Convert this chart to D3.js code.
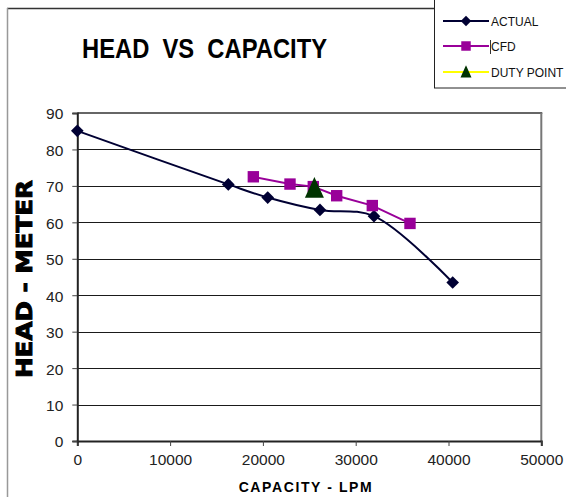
<!DOCTYPE html>
<html>
<head>
<meta charset="utf-8">
<script src="https://cdn.jsdelivr.net/npm/d3@7"></script>
<style>
  html, body { margin: 0; padding: 0; background: #fff; }
  svg { display: block; }
  text { font-family: "Liberation Sans", Arial, sans-serif; }
</style>
</head>
<body>
<svg id="chart" width="566" height="497"></svg>
<script>
// Measured pump performance: capacity (LPM) against head (m)
const actualCapacity = [0, 16270, 20520, 26150, 31970, 40450];
const actualHead     = [85.1, 70.4, 66.8, 63.4, 61.7, 43.5];

// CFD predictions
const cfdCapacity = [18970, 22920, 25430, 27950, 31790, 35850];
const cfdHead     = [72.5, 70.5, 69.8, 67.3, 64.6, 59.7];

// Duty point
const dutyCapacity = [25550];
const dutyHead     = [69.3];

const xTicks = [0, 10000, 20000, 30000, 40000, 50000];
const yTicks = [0, 10, 20, 30, 40, 50, 60, 70, 80, 90];

const seriesNames = ["ACTUAL", "CFD", "DUTY POINT"];

const svg = d3.select("#chart");

const plot = { left: 77.3, right: 541.3, top: 113, bottom: 441 };

const x = d3.scaleLinear().domain([0, 50000]).range([plot.left, plot.right]);
const y = d3.scaleLinear().domain([0, 90]).range([plot.bottom, plot.top]);

// upright triangle slightly taller than wide; size sets its width
const tallTriangle = {
  draw(context, size) {
    const w = Math.sqrt(size), h = w * 1.1;
    context.moveTo(0, -h * 0.55);
    context.lineTo(w / 2, h * 0.45);
    context.lineTo(-w / 2, h * 0.45);
    context.closePath();
  }
};

// outer chart frame
svg.append("line").attr("x1", 7).attr("y1", 8.5).attr("x2", 566).attr("y2", 8.5)
  .attr("stroke", "#333").attr("stroke-width", 1.5);
svg.append("line").attr("x1", 7.5).attr("y1", 8).attr("x2", 7.5).attr("y2", 497)
  .attr("stroke", "#999").attr("stroke-width", 1.5);

// title
svg.append("text")
  .attr("x", 82).attr("y", 58)
  .attr("textLength", 245).attr("lengthAdjust", "spacingAndGlyphs")
  .style("font-size", "28px").style("font-weight", "bold")
  .style("white-space", "pre")
  .attr("fill", "#000")
  .text("HEAD  VS  CAPACITY");

// horizontal gridlines
svg.append("g").selectAll("line")
  .data(yTicks.filter(t => t > 0 && t < 90))
  .join("line")
  .attr("x1", plot.left).attr("x2", plot.right)
  .attr("y1", d => Math.round(y(d)) + 0.5).attr("y2", d => Math.round(y(d)) + 0.5)
  .attr("stroke", "#1a1a1a").attr("stroke-width", 1);

// plot-area border (top and right)
svg.append("line").attr("x1", plot.left).attr("x2", plot.right + 1)
  .attr("y1", plot.top).attr("y2", plot.top)
  .attr("stroke", "#666").attr("stroke-width", 2);
svg.append("line").attr("x1", plot.right).attr("x2", plot.right)
  .attr("y1", plot.top).attr("y2", plot.bottom)
  .attr("stroke", "#777").attr("stroke-width", 2);

// axes
const xAxis = d3.axisBottom(x).tickValues(xTicks).tickSize(5).tickPadding(8)
  .tickFormat(d3.format("d"));
const gx = svg.append("g").attr("transform", `translate(0,${plot.bottom})`).call(xAxis);
gx.select(".domain").attr("stroke", "#222").attr("stroke-width", 2);
gx.selectAll(".tick line").attr("stroke", "#444");
gx.selectAll(".tick text")
  .style("font-size", "15.5px").attr("fill", "#222")
  .attr("dy", "0.71em");

const yAxis = d3.axisLeft(y).tickValues(yTicks).tickSize(5).tickPadding(9);
const gy = svg.append("g").attr("transform", `translate(${plot.left},0)`).call(yAxis);
gy.select(".domain").attr("stroke", "#222").attr("stroke-width", 2);
gy.selectAll(".tick line").attr("stroke", "#444");
gy.selectAll(".tick text")
  .style("font-size", "15.5px").attr("fill", "#222")
  .attr("dy", "0.38em");

// axis titles
svg.append("text")
  .attr("x", 306).attr("y", 492)
  .attr("text-anchor", "middle")
  .style("font-size", "14px").style("font-weight", "bold")
  .style("letter-spacing", "1.6px")
  .attr("fill", "#000")
  .text("CAPACITY - LPM");

svg.append("text")
  .attr("transform", "translate(32,279) rotate(-90)")
  .attr("text-anchor", "middle")
  .attr("textLength", 198).attr("lengthAdjust", "spacingAndGlyphs")
  .style("font-family", "'DejaVu Sans', sans-serif")
  .style("font-size", "20.5px").style("font-weight", "bold")
  .attr("fill", "#000").attr("stroke", "#000").attr("stroke-width", 0.9)
  .text("HEAD - METER");

// series
const actualPts = actualCapacity.map((c, i) => [c, actualHead[i]]);
const cfdPts = cfdCapacity.map((c, i) => [c, cfdHead[i]]);
const dutyPts = dutyCapacity.map((c, i) => [c, dutyHead[i]]);

const smoothLine = d3.line().x(d => x(d[0])).y(d => y(d[1])).curve(d3.curveCatmullRom.alpha(0.5));
const straightLine = d3.line().x(d => x(d[0])).y(d => y(d[1]));

const navy = "#000033", purple = "#990099", green = "#003300", yellow = "#ffff00";

svg.append("path").datum(actualPts).attr("d", smoothLine)
  .attr("fill", "none").attr("stroke", navy).attr("stroke-width", 2);

svg.append("path").datum(cfdPts).attr("d", straightLine)
  .attr("fill", "none").attr("stroke", purple).attr("stroke-width", 2);

svg.append("g").selectAll("path").data(actualPts).join("path")
  .attr("d", d3.symbol().type(d3.symbolSquare).size(80))
  .attr("transform", d => `translate(${x(d[0])},${y(d[1])}) rotate(45)`)
  .attr("fill", navy);

svg.append("g").selectAll("path").data(cfdPts).join("path")
  .attr("transform", d => `translate(${x(d[0])},${y(d[1])})`)
  .attr("d", d3.symbol().type(d3.symbolSquare).size(130))
  .attr("fill", purple);

svg.append("g").selectAll("path").data(dutyPts).join("path")
  .attr("transform", d => `translate(${x(d[0])},${y(d[1])})`)
  .attr("d", d3.symbol().type(tallTriangle).size(19 * 19))
  .attr("fill", green);

// legend
const legend = svg.append("g");
legend.append("rect")
  .attr("x", 434.5).attr("y", -2).attr("width", 140).attr("height", 90)
  .attr("fill", "#fff").attr("stroke", "#222").attr("stroke-width", 1);

const legendRows = [
  { name: seriesNames[0], color: navy, mark: d3.symbol().type(d3.symbolSquare).size(55), rot: 45, fill: navy, y: 21 },
  { name: seriesNames[1], color: purple, mark: d3.symbol().type(d3.symbolSquare).size(90), rot: 0, fill: purple, y: 46 },
  { name: seriesNames[2], color: yellow, mark: d3.symbol().type(tallTriangle).size(11 * 11), rot: 0, fill: green, y: 72 }
];
const rows = legend.selectAll("g.row").data(legendRows).join("g").attr("class", "row");
rows.append("line")
  .attr("x1", 443).attr("x2", 489)
  .attr("y1", d => d.y).attr("y2", d => d.y)
  .attr("stroke", d => d.color).attr("stroke-width", 2);
rows.append("path")
  .attr("d", d => d.mark())
  .attr("transform", d => `translate(466,${d.y}) rotate(${d.rot})`)
  .attr("fill", d => d.fill);
rows.append("text")
  .attr("x", 491).attr("y", d => d.y + 4.5)
  .style("font-size", "12px")
  .attr("fill", "#111")
  .text(d => d.name);

// thin caret mark in front of the CFD entry
legend.append("line")
  .attr("x1", 490.5).attr("x2", 490.5).attr("y1", 40).attr("y2", 54)
  .attr("stroke", "#333").attr("stroke-width", 1);
</script>
</body>
</html>
